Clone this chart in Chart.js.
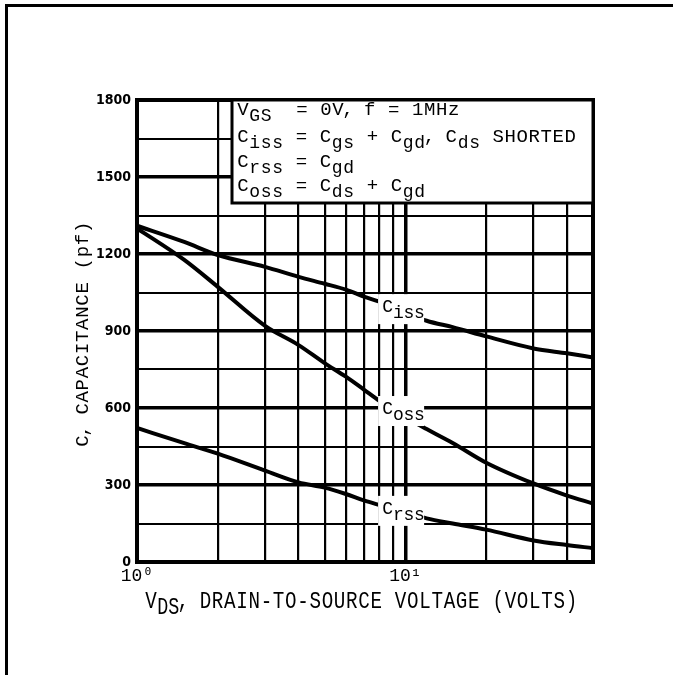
<!DOCTYPE html>
<html>
<head>
<meta charset="utf-8">
<title>Capacitance vs VDS</title>
<script src="https://cdn.jsdelivr.net/npm/chart.js@4.4.0/dist/chart.umd.min.js"></script>
<style>
  html, body { margin: 0; padding: 0; background: #fff; overflow: hidden; }
  canvas { display: block; }
</style>
</head>
<body>
<canvas id="capChart" width="673" height="675"></canvas>
<script>
// drain-to-source voltage (V)
const vds = [1, 1.5, 2, 3, 4, 5, 6, 7, 8, 9, 10, 12, 15, 20, 30, 40, 50];
// capacitances (pF)
const ciss = [1310, 1247, 1196, 1150, 1111, 1084, 1061, 1034, 1014, 993, 973, 940, 915, 879, 832, 813, 797];
const coss = [1300, 1177, 1072, 920, 845, 775, 722, 672, 628, 596, 565, 518, 464, 387, 306, 259, 228];
const crss = [522, 463, 422, 356, 310, 290, 265, 240, 222, 207, 194, 170, 150, 126, 84, 66, 54];

const seriesNames = ['iss', 'oss', 'rss'];
const labelAtVds = 9;

const xGrid = [1, 2, 3, 4, 5, 6, 7, 8, 9, 10, 20, 30, 40, 50];
const xLabels = { 1: '10\u2070', 10: '10\u00b9' };
const yLabels = [0, 300, 600, 900, 1200, 1500, 1800];

const LETTER_FONT = '"Liberation Mono", "DejaVu Sans Mono", monospace';

// hand-lettered style text: fixed cell width per character, optional subscripts
function letter(ctx, runs, x, y, o) {
  ctx.save();
  ctx.fillStyle = '#000';
  ctx.textAlign = 'center';
  ctx.textBaseline = 'alphabetic';
  for (const [text, sub] of runs) {
    ctx.font = (sub ? o.subSize : o.size) + 'px ' + LETTER_FONT;
    for (const ch of text) {
      let adv = sub ? o.subAdv : o.adv;
      if (ch === ',') adv = o.adv * 0.65;
      ctx.save();
      ctx.translate(x + adv / 2, y + (sub ? o.drop : 0));
      ctx.scale(o.sx || 1, 1);
      ctx.fillText(ch, 0, 0);
      ctx.restore();
      x += adv;
    }
  }
  ctx.restore();
  return x;
}

const legendLines = [
  [['V', 0], ['GS', 1], ['  = 0V, f = 1MHz', 0]],
  [['C', 0], ['iss', 1], [' = C', 0], ['gs', 1], [' + C', 0], ['gd', 1], [', C', 0], ['ds', 1], [' SHORTED', 0]],
  [['C', 0], ['rss', 1], [' = C', 0], ['gd', 1]],
  [['C', 0], ['oss', 1], [' = C', 0], ['ds', 1], [' + C', 0], ['gd', 1]]
];

const decorations = {
  id: 'decorations',
  beforeDraw(chart) {
    const ctx = chart.ctx;
    // outer sheet frame
    ctx.save();
    ctx.fillStyle = '#000';
    ctx.fillRect(5, 4, 3, chart.height);
    ctx.fillRect(5, 4, chart.width, 3);
    ctx.restore();
  },
  afterDatasetsDraw(chart) {
    const ctx = chart.ctx;
    const a = chart.chartArea;
    const idx = vds.indexOf(labelAtVds);

    // curve names, knocked out of the grid
    chart.data.datasets.forEach((ds, i) => {
      const pt = chart.getDatasetMeta(i).data[idx];
      const left = pt.x - 15, top = pt.y - 13;
      ctx.save();
      ctx.fillStyle = '#fff';
      ctx.fillRect(left, top, 46, 30);
      ctx.restore();
      letter(ctx, [['C', 0], [seriesNames[i], 1]], left + 4, top + 18,
        { size: 18, subSize: 18, adv: 11, subAdv: 10.5, drop: 6 });
    });

    // plot frame
    ctx.save();
    ctx.strokeStyle = '#000';
    ctx.lineWidth = 4;
    ctx.strokeRect(a.left, a.top, a.right - a.left, a.bottom - a.top);

    // conditions box
    const bx = a.left + 95, by = a.top, bw = a.right - bx, bh = 103;
    ctx.fillStyle = '#fff';
    ctx.fillRect(bx, by, bw, bh);
    ctx.lineWidth = 3;
    ctx.strokeRect(bx, by, bw, bh);
    ctx.restore();
    const baselines = [15, 42, 67, 91];
    legendLines.forEach((runs, i) => {
      letter(ctx, runs, bx + 5, by + baselines[i],
        { size: 19, subSize: 18, adv: 12, subAdv: 11.5, drop: 6 });
    });

    // axis titles
    letter(ctx, [['V', 0], ['DS', 1], [', DRAIN-TO-SOURCE VOLTAGE (VOLTS)', 0]], 145, 608,
      { size: 24, subSize: 23, adv: 12.2, subAdv: 11, drop: 6, sx: 0.8 });
    ctx.save();
    ctx.translate(88, 447);
    ctx.rotate(-Math.PI / 2);
    letter(ctx, [['C, CAPACITANCE (pf)', 0]], 0, 0, { size: 19, adv: 12.1 });
    ctx.restore();
  }
};

const line = (data) => ({
  data: vds.map((v, i) => ({ x: v, y: data[i] })),
  borderColor: '#000',
  borderWidth: 4,
  pointRadius: 0,
  cubicInterpolationMode: 'monotone',
  borderCapStyle: 'round'
});

new Chart(document.getElementById('capChart'), {
  type: 'line',
  data: { datasets: [line(ciss), line(coss), line(crss)] },
  options: {
    responsive: false,
    devicePixelRatio: 1,
    animation: false,
    layout: { padding: { left: 87, top: 100, right: 80, bottom: 83 } },
    plugins: { legend: { display: false }, tooltip: { enabled: false } },
    scales: {
      x: {
        type: 'logarithmic',
        min: 1,
        max: 50,
        afterBuildTicks: (s) => { s.ticks = xGrid.map(v => ({ value: v })); },
        afterFit: (s) => { s.height = 30; },
        border: { display: false },
        grid: {
          color: '#000',
          drawTicks: false,
          lineWidth: (c) => (c.tick && c.tick.value === 10 ? 3.5 : 2.2)
        },
        ticks: {
          autoSkip: false,
          maxRotation: 0,
          padding: 3,
          color: '#000',
          font: { family: LETTER_FONT, size: 18 },
          callback: (v) => xLabels[v] || ''
        }
      },
      y: {
        min: 0,
        max: 1800,
        afterFit: (s) => { s.width = 50; },
        border: { display: false },
        grid: {
          color: '#000',
          drawTicks: false,
          lineWidth: (c) => (c.tick && c.tick.value % 300 === 0 ? 3.5 : 2)
        },
        ticks: {
          stepSize: 150,
          padding: 6,
          color: '#000',
          font: { family: '"DejaVu Sans Condensed", "DejaVu Sans", sans-serif', size: 14, weight: 'bold' },
          callback: (v) => (yLabels.includes(v) ? String(v) : '')
        }
      }
    }
  },
  plugins: [decorations]
});
</script>
</body>
</html>
